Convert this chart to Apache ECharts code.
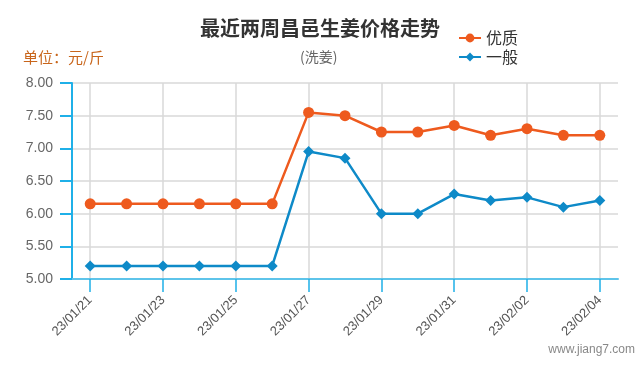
<!DOCTYPE html>
<html>
<head>
<meta charset="utf-8">
<script src="https://cdn.jsdelivr.net/npm/echarts@6/dist/echarts.min.js"></script>
<style>
html,body{margin:0;padding:0;background:#fff;}
#chart{width:640px;height:365px;}
</style>
</head>
<body>
<div id="chart"></div>
<script>
var categories = ['23/01/21','23/01/22','23/01/23','23/01/24','23/01/25','23/01/26','23/01/27','23/01/28','23/01/29','23/01/30','23/01/31','23/02/01','23/02/02','23/02/03','23/02/04'];
var premium = [6.15,6.15,6.15,6.15,6.15,6.15,7.55,7.50,7.25,7.25,7.35,7.20,7.30,7.20,7.20];
var ordinary = [5.20,5.20,5.20,5.20,5.20,5.20,6.95,6.85,6.00,6.00,6.30,6.20,6.25,6.10,6.20];
var seriesNames = ['优质','一般'];
var yTicks = {min:5, max:8, interval:0.5};

var chart = echarts.init(document.getElementById('chart'), null, {renderer:'canvas'});
var FONT = '"Microsoft YaHei","Noto Sans CJK SC",sans-serif';
var LAT = 'Arial, "Liberation Sans", sans-serif';
var option = {
  backgroundColor:'#fff',
  animation:false,
  title:[
    {text:'最近两周昌邑生姜价格走势', left:'center', top:13, padding:5, textStyle:{fontSize:20, fontWeight:'bold', color:'#333', fontFamily:FONT}},
    {text:'(洗姜)', left:295, top:45, textStyle:{fontSize:14, fontWeight:'normal', color:'#666', fontFamily:FONT}},
    {text:'单位：元/斤', left:18, top:45, textStyle:{fontSize:15, fontWeight:'normal', color:'#c8651b', fontFamily:FONT}},
    {text:'www.jiang7.com', right:0, top:339, textStyle:{fontSize:12, fontWeight:'normal', color:'#888', fontFamily:LAT}}
  ],
  legend:{
    orient:'vertical', left:453, top:25, itemWidth:22, itemHeight:11, itemGap:3,
    textStyle:{fontSize:16, color:'#333', fontFamily:FONT},
    data:seriesNames
  },
  grid:{left:72, right:22, top:83, bottom:86, containLabel:false},
  xAxis:{
    type:'category', data:categories, boundaryGap:true,
    axisLine:{lineStyle:{color:'#5ec4ea', width:2}},
    axisTick:{show:true, interval:1, alignWithLabel:true, length:13, lineStyle:{color:'#1fb0e8', width:1.5}},
    axisLabel:{interval:1, rotate:45, margin:19, color:'#555', fontSize:13, fontFamily:LAT},
    splitLine:{show:true, interval:1, alignWithLabel:true, lineStyle:{color:'#d9d9d9', width:1.5}}
  },
  yAxis:{
    type:'value', min:yTicks.min, max:yTicks.max, interval:yTicks.interval,
    axisLine:{show:true, lineStyle:{color:'#1fb0e8', width:2}},
    axisTick:{show:true, length:12, lineStyle:{color:'#1fb0e8', width:2}},
    axisLabel:{margin:19, color:'#666', fontSize:14, fontFamily:LAT, formatter:function(v){return v.toFixed(2);}},
    splitLine:{show:true, lineStyle:{color:'#d9d9d9', width:1.5}}
  },
  series:[
    {name:seriesNames[0], type:'line', data:premium, symbol:'circle', symbolSize:11,
     itemStyle:{color:'#ee5a1e'}, lineStyle:{color:'#ee5a1e', width:2.5}},
    {name:seriesNames[1], type:'line', data:ordinary, symbol:'diamond', symbolSize:11,
     itemStyle:{color:'#0e8ac8'}, lineStyle:{color:'#0e8ac8', width:2.5}}
  ]
};
chart.setOption(option);
</script>
</body>
</html>
